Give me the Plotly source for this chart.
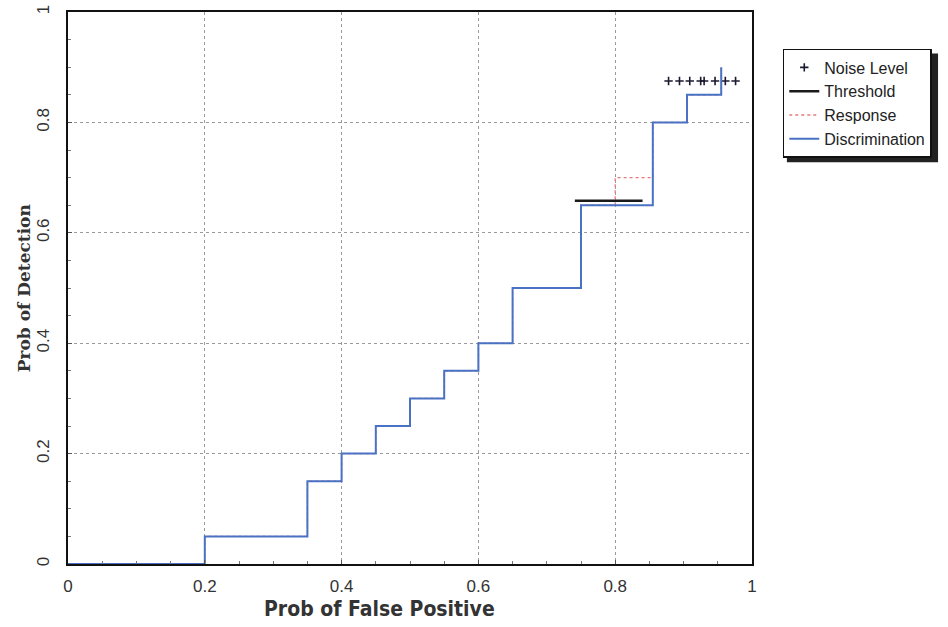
import plotly.graph_objects as go

# ROC style step curves
disc_x = [0, 0.2, 0.35, 0.4, 0.45, 0.5, 0.55, 0.6, 0.65, 0.75, 0.855, 0.905, 0.955, 0.955]
disc_y = [0, 0, 0.05, 0.15, 0.2, 0.25, 0.3, 0.35, 0.4, 0.5, 0.65, 0.8, 0.85, 0.9]

resp_x = [0, 0.2, 0.35, 0.4, 0.45, 0.5, 0.55, 0.6, 0.65, 0.75, 0.8, 0.855, 0.905, 0.955, 0.955]
resp_y = [0, 0, 0.05, 0.15, 0.2, 0.25, 0.3, 0.35, 0.4, 0.5, 0.65, 0.7, 0.8, 0.85, 0.9]

thresh_x = [0.741, 0.84]
thresh_y = [0.658, 0.658]

noise_x = [0.878, 0.894, 0.909, 0.925, 0.930, 0.946, 0.961, 0.976]
noise_y = [0.875] * len(noise_x)

tick_vals = [0, 0.2, 0.4, 0.6, 0.8, 1]
tick_text = ["0", "0.2", "0.4", "0.6", "0.8", "1"]

fig = go.Figure()

fig.add_trace(go.Scatter(x=noise_x, y=noise_y, mode="markers", name="Noise Level",
                         marker=dict(symbol="cross-thin", size=6, color="#1a1a2e",
                                     line=dict(width=1.6, color="#1a1a2e"))))
fig.add_trace(go.Scatter(x=thresh_x, y=thresh_y, mode="lines", name="Threshold",
                         line=dict(color="#1a1a1a", width=2.5)))
fig.add_trace(go.Scatter(x=resp_x, y=resp_y, mode="lines", name="Response", line_shape="vh",
                         line=dict(color="#e57a7a", width=1.3, dash="dot")))
fig.add_trace(go.Scatter(x=disc_x, y=disc_y, mode="lines", name="Discrimination", line_shape="vh",
                         line=dict(color="#4a72c4", width=2)))

# legend drop shadow
fig.add_shape(type="rect", xref="paper", yref="paper", x0=1.051, x1=1.272, y0=0.728, y1=0.925,
              fillcolor="#222222", line_width=0, layer="below")

axis_common = dict(
    range=[0, 1], showline=True, linecolor="#111111", linewidth=2, mirror=True,
    showgrid=True, gridcolor="#9a9a9a", griddash="dot", gridwidth=1,
    zeroline=False, ticks="inside", ticklen=4, tickcolor="#555555",
    tickvals=tick_vals, ticktext=tick_text, automargin=False, ticklabeloverflow="allow",
    tickfont=dict(family="Liberation Sans, Arial", size=17, color="#333333"),
    minor=dict(ticks="inside", dtick=0.05, ticklen=3, tickcolor="#777777", showgrid=False),
)

fig.update_xaxes(**axis_common, ticklabelstandoff=6)
fig.update_yaxes(**axis_common, tickangle=-90, ticklabelstandoff=10)

# axis titles as annotations so they sit where the original put them
fig.add_annotation(text="<b>Prob of False Positive</b>", xref="paper", yref="paper",
                   x=0.456, y=-0.0815, xanchor="center", yanchor="middle", showarrow=False,
                   font=dict(family="DejaVu Sans Condensed, Liberation Sans Narrow, Liberation Sans",
                             size=21, color="#333333"))
fig.add_annotation(text="<b>Prob of Detection</b>", xref="paper", yref="paper",
                   x=-0.064, y=0.50, xanchor="center", yanchor="middle", textangle=-90,
                   showarrow=False,
                   font=dict(family="DejaVu Serif, Liberation Serif, serif",
                             size=17, color="#333333"))

fig.update_layout(
    width=948, height=627,
    margin=dict(l=68, r=196, t=12, b=63),
    plot_bgcolor="white", paper_bgcolor="white",
    legend=dict(x=1.045, y=0.933, xanchor="left", yanchor="top",
                bgcolor="white", bordercolor="#111111", borderwidth=1.5,
                font=dict(family="Liberation Sans, Arial", size=16, color="#222222"),
                tracegroupgap=0, itemwidth=30),
    showlegend=True,
)

# drop the default page margin so the figure fills the window exactly
fig.write_html("out.html", config={"displayModeBar": False},
               post_script="document.body.style.margin='0';")
